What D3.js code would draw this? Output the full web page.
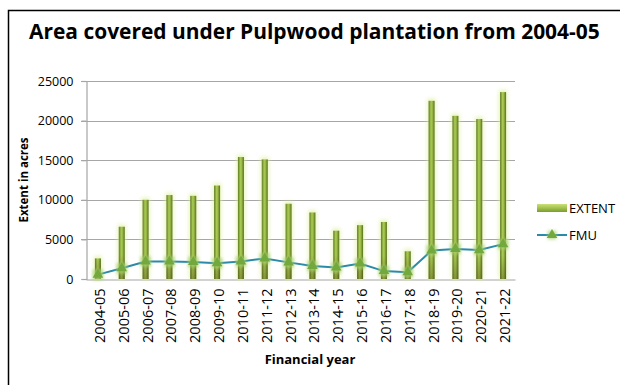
<!DOCTYPE html>
<html>
<head>
<meta charset="utf-8">
<script src="https://cdn.jsdelivr.net/npm/d3@7"></script>
<style>
  html, body { margin: 0; padding: 0; background: #fff; }
  svg { display: block; }
  text { font-family: "Open Sans", "Liberation Sans", sans-serif; }
</style>
</head>
<body>
<script>
const categories = ["2004-05","2005-06","2006-07","2007-08","2008-09","2009-10","2010-11","2011-12","2012-13","2013-14","2014-15","2015-16","2016-17","2017-18","2018-19","2019-20","2020-21","2021-22"];
const extentValues = [2600, 6600, 10000, 10600, 10500, 11800, 15400, 15100, 9500, 8400, 6100, 6800, 7200, 3500, 22500, 20600, 20200, 23600];
const fmuValues = [550, 1350, 2200, 2200, 2150, 2000, 2200, 2600, 2100, 1650, 1450, 1950, 1000, 850, 3600, 3800, 3650, 4400];
const yTicks = [0, 5000, 10000, 15000, 20000, 25000];
const titleText = "Area covered under Pulpwood plantation from 2004-05";
const yAxisTitle = "Extent in acres";
const xAxisTitle = "Financial year";
const seriesNames = ["EXTENT", "FMU"];

const W = 620, H = 385;
const svg = d3.select("body").append("svg").attr("width", W).attr("height", H);

const defs = svg.append("defs");
const grad = defs.append("linearGradient").attr("id", "barGrad").attr("x1", "0").attr("x2", "1").attr("y1", "0").attr("y2", "0");
grad.append("stop").attr("offset", "0%").attr("stop-color", "#5d7a1f");
grad.append("stop").attr("offset", "40%").attr("stop-color", "#a9c954");
grad.append("stop").attr("offset", "60%").attr("stop-color", "#9dbd48");
grad.append("stop").attr("offset", "100%").attr("stop-color", "#55701c");
const vgrad = defs.append("linearGradient").attr("id", "bottomShade").attr("x1", "0").attr("x2", "0").attr("y1", "0").attr("y2", "1");
vgrad.append("stop").attr("offset", "0%").attr("stop-color", "#4a3a10").attr("stop-opacity", 0);
vgrad.append("stop").attr("offset", "100%").attr("stop-color", "#4a3a10").attr("stop-opacity", 0.35);
const legGrad = defs.append("linearGradient").attr("id", "legGrad").attr("x1", "0").attr("x2", "0").attr("y1", "0").attr("y2", "1");
legGrad.append("stop").attr("offset", "0%").attr("stop-color", "#c8e07a");
legGrad.append("stop").attr("offset", "50%").attr("stop-color", "#a2c24e");
legGrad.append("stop").attr("offset", "100%").attr("stop-color", "#7c9a30");
const glow = defs.append("filter").attr("id", "glow").attr("x", "-200%").attr("y", "-20%").attr("width", "500%").attr("height", "140%");
glow.append("feGaussianBlur").attr("stdDeviation", 2);
const mglow = defs.append("filter").attr("id", "mglow").attr("x", "-100%").attr("y", "-100%").attr("width", "300%").attr("height", "300%");
mglow.append("feGaussianBlur").attr("stdDeviation", 1.6);

// outer border
svg.append("rect").attr("x", 8.5).attr("y", 10.5).attr("width", W + 20).attr("height", H + 20)
  .attr("fill", "#fff").attr("stroke", "#000").attr("stroke-width", 1.5);

// title
const title = svg.append("text").attr("x", 29).attr("y", 39).attr("font-weight", "bold")
  .attr("font-size", 18).attr("fill", "#000").text(titleText);
{
  const w = title.node().getComputedTextLength();
  title.attr("font-size", 18 * 571 / w);
}

const plot = { left: 86, right: 515, top: 81, bottom: 279 };
const x = d3.scaleBand().domain(categories).range([plot.left, plot.right]);
const y = d3.scaleLinear().domain([0, 25000]).range([plot.bottom, plot.top]);

// gridlines
svg.append("g").selectAll("line").data(yTicks.filter(d => d > 0)).join("line")
  .attr("x1", plot.left - 5).attr("x2", plot.right)
  .attr("y1", d => Math.round(y(d)) + 0.5).attr("y2", d => Math.round(y(d)) + 0.5)
  .attr("stroke", "#a6a6a6").attr("stroke-width", 1.2);

// y axis
const yAxis = svg.append("g").attr("transform", `translate(${plot.left + 0.5},0)`)
  .call(d3.axisLeft(y).tickValues(yTicks).tickSize(5).tickPadding(8).tickFormat(d3.format("d")));
yAxis.select(".domain").attr("stroke", "#a6a6a6").attr("stroke-width", 1.2);
yAxis.selectAll(".tick line").attr("stroke", "#a6a6a6").attr("stroke-width", 1.2);
yAxis.selectAll(".tick text").attr("font-family", "'Open Sans', sans-serif").attr("font-size", 12.5).attr("fill", "#000");

// x axis
const xAxis = svg.append("g").attr("transform", `translate(0,${plot.bottom + 0.5})`)
  .call(d3.axisBottom(x).tickSize(0).tickPadding(0));
xAxis.select(".domain").attr("stroke", "#a6a6a6").attr("stroke-width", 1.2);
xAxis.selectAll(".tick text")
  .attr("font-family", "'Open Sans', sans-serif").attr("font-size", 14.5).attr("fill", "#000")
  .attr("text-anchor", "end").attr("transform", "translate(2,9) rotate(-90)")
  .attr("x", 0).attr("y", 0).attr("dy", "0.35em");

// bars: glow then body
const bw = 6;
const bars = svg.append("g");
bars.selectAll("rect.glow").data(categories).join("rect").attr("class", "glow")
  .attr("x", (d) => x(d) + x.bandwidth() / 2 - bw / 2 - 1)
  .attr("y", (d, i) => y(extentValues[i]) - 2)
  .attr("width", bw + 2)
  .attr("height", (d, i) => y(0) - y(extentValues[i]) + 2)
  .attr("fill", "#dff0a0").attr("opacity", 0.8).attr("filter", "url(#glow)");
bars.selectAll("rect.bar").data(categories).join("rect").attr("class", "bar")
  .attr("x", (d) => x(d) + x.bandwidth() / 2 - bw / 2)
  .attr("y", (d, i) => y(extentValues[i]))
  .attr("width", bw)
  .attr("height", (d, i) => y(0) - y(extentValues[i]))
  .attr("fill", "url(#barGrad)");
bars.selectAll("rect.shade").data(categories).join("rect").attr("class", "shade")
  .attr("x", (d) => x(d) + x.bandwidth() / 2 - bw / 2)
  .attr("y", (d, i) => y(Math.min(extentValues[i], 3000)))
  .attr("width", bw)
  .attr("height", (d, i) => y(0) - y(Math.min(extentValues[i], 3000)))
  .attr("fill", "url(#bottomShade)");

// FMU line
const line = d3.line().x((d, i) => x(categories[i]) + x.bandwidth() / 2).y(d => y(d));
svg.append("path").datum(fmuValues).attr("d", line)
  .attr("fill", "none").attr("stroke", "#2a8aa8").attr("stroke-width", 2);

const tri = d3.symbol().type(d3.symbolTriangle).size(48);
const mk = svg.append("g");
mk.selectAll("path.mg").data(fmuValues).join("path").attr("class", "mg")
  .attr("d", d3.symbol().type(d3.symbolSquare).size(110)())
  .attr("transform", (d, i) => `translate(${x(categories[i]) + x.bandwidth() / 2},${y(d)})`)
  .attr("fill", "#a8d070").attr("opacity", 0.75).attr("filter", "url(#mglow)");
mk.selectAll("path.m").data(fmuValues).join("path").attr("class", "m")
  .attr("d", tri())
  .attr("transform", (d, i) => `translate(${x(categories[i]) + x.bandwidth() / 2},${y(d)})`)
  .attr("fill", "#72a83c");

// axis titles
svg.append("text").attr("transform", "translate(28,180) rotate(-90)")
  .attr("text-anchor", "middle").attr("font-weight", "bold").attr("font-size", 11.5).text(yAxisTitle);
svg.append("text").attr("x", 310).attr("y", 364)
  .attr("text-anchor", "middle").attr("font-weight", "bold").attr("font-size", 13).text(xAxisTitle);

// legend
const lg = svg.append("g");
lg.append("rect").attr("x", 537).attr("y", 204).attr("width", 30).attr("height", 8).attr("fill", "url(#legGrad)");
lg.append("text").attr("x", 569).attr("y", 213).attr("font-size", 13).text(seriesNames[0]);
lg.append("line").attr("x1", 537).attr("x2", 567).attr("y1", 235).attr("y2", 235).attr("stroke", "#2a8aa8").attr("stroke-width", 2);
lg.append("path").attr("d", d3.symbol().type(d3.symbolSquare).size(80)()).attr("transform", "translate(552,235)")
  .attr("fill", "#a8d070").attr("opacity", 0.7).attr("filter", "url(#mglow)");
lg.append("path").attr("d", tri()).attr("transform", "translate(552,235)").attr("fill", "#72a83c");
lg.append("text").attr("x", 569).attr("y", 240).attr("font-size", 13).text(seriesNames[1]);
</script>
</body>
</html>
